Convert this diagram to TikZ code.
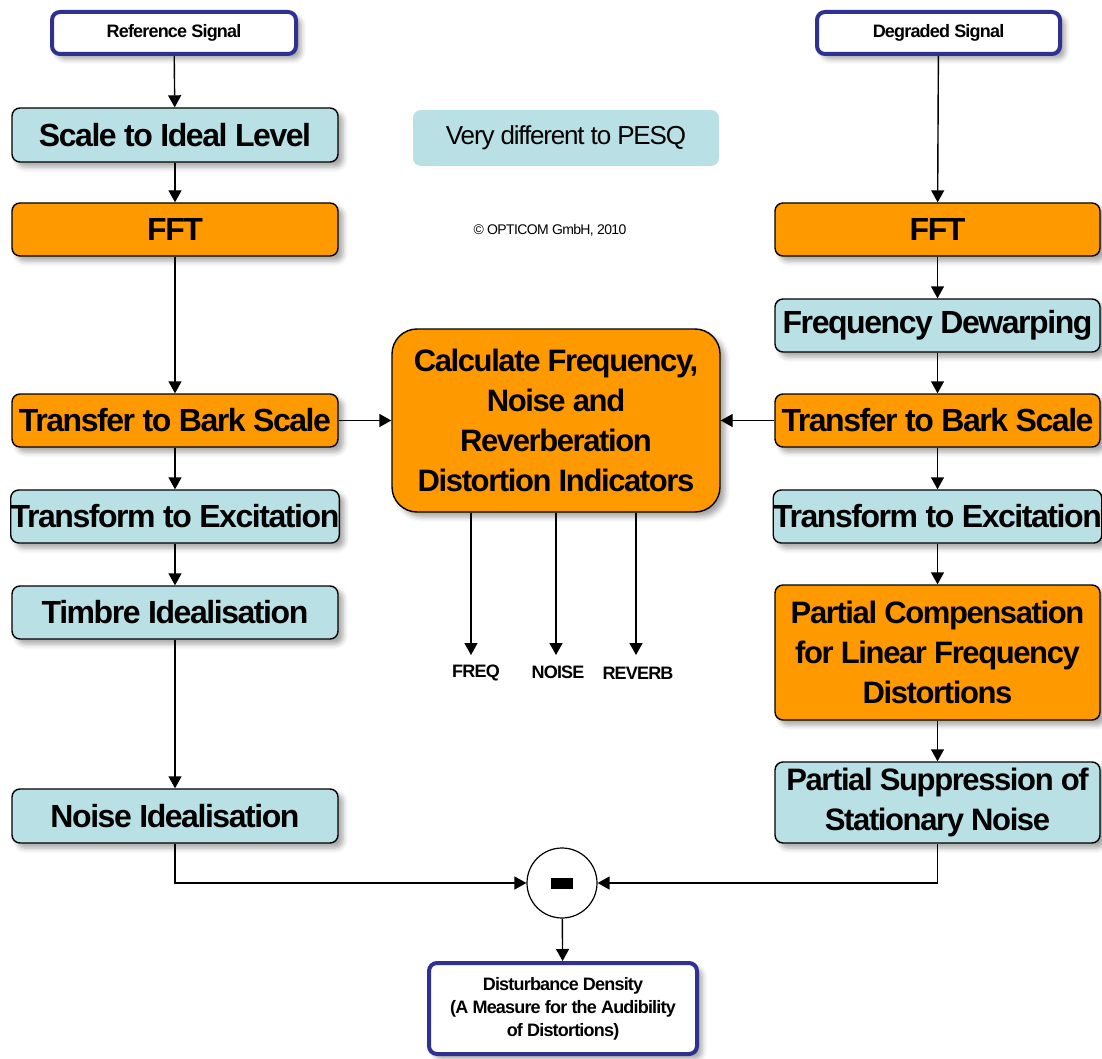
\documentclass[tikz,border=0pt]{standalone}
\usepackage{fontspec}
\setmainfont{Liberation Sans}[LetterSpace=-4.5]
\usetikzlibrary{arrows.meta,shadows.blur}
\definecolor{paleblue}{HTML}{B9E0E4}
\definecolor{amber}{HTML}{FF9900}
\definecolor{navy}{HTML}{2E3192}

\tikzset{
  box/.style={draw=black, line width=1.4pt, rounded corners=8pt, align=center,
    inner sep=0pt, text=black, font=\bfseries\fontsize{32}{40}\selectfont,
    blur shadow={shadow xshift=5pt, shadow yshift=-5pt, shadow blur radius=5pt, shadow opacity=35}},
  cool/.style={box, fill=paleblue},
  warm/.style={box, fill=amber},
  single/.style={minimum width=326pt, minimum height=53pt},
  multi/.style={font=\bfseries\fontsize{31}{40}\selectfont},
  signal/.style={box, draw=navy, line width=4pt, fill=white,
    font=\bfseries\fontsize{18}{23}\selectfont},
  outlabel/.style={font=\bfseries\fontsize{18}{22}\selectfont, inner sep=0pt},
  flow/.style={-{Triangle[length=12pt,width=13pt]}, line width=1.4pt},
}

\begin{document}
\begin{tikzpicture}[x=1pt, y=-1pt]
\useasboundingbox (0,0) rectangle (1102,1059);

% inputs
\node[signal, minimum width=244pt, minimum height=42pt] (refsig) at (174,33) {Reference Signal};
\node[signal, minimum width=243pt, minimum height=42pt] (degsig) at (938.5,33) {Degraded Signal};

% reference path
\node[cool, single, minimum height=54pt] (scale) at (175,135) {Scale to Ideal Level};
\node[warm, single] (fftL) at (175,229.5) {FFT};
\node[warm, single] (barkL) at (175,420.5) {Transfer to Bark Scale};
\node[cool, single] (excL) at (175,516.5) {Transform to Excitation};
\node[cool, single] (timbre) at (175,612.5) {Timbre Idealisation};
\node[cool, single, minimum height=54pt] (noiseid) at (175,816) {Noise Idealisation};

% degraded path
\node[warm, single, minimum width=325pt] (fftR) at (937.5,229.5) {FFT};
\node[cool, single, minimum width=325pt] (dewarp) at (937.5,325.5) {Frequency Dewarping};
\node[warm, single, minimum width=325pt] (barkR) at (937.5,420.5) {Transfer to Bark Scale};
\node[cool, single, minimum width=325pt] (excR) at (937.5,516.5) {Transform to Excitation};
\node[warm, multi, minimum width=325pt, minimum height=135pt] (comp) at (937.5,652.5)
  {Partial Compensation\\for Linear Frequency\\Distortions};
\node[cool, multi, minimum width=325pt, minimum height=81pt] (supp) at (937.5,802.5)
  {Partial Suppression of\\Stationary Noise};

% indicator block
\node[warm, multi, rounded corners=25pt, minimum width=328pt, minimum height=183pt] (calc) at (556,420.5)
  {Calculate Frequency,\\Noise and\\Reverberation\\Distortion Indicators};

% notes
\node[fill=paleblue, rounded corners=8pt, minimum width=306pt, minimum height=56pt, inner sep=0pt,
  font=\fontsize{26}{30}\selectfont] (pesq) at (566,138) {Very different to PESQ};
\node[font=\fontsize{14}{16}\selectfont, inner sep=0pt] (copy) at (550,230) {© OPTICOM GmbH, 2010};

% difference and result
\node[circle, draw=black, line width=1.2pt, fill=white, minimum size=70pt, inner sep=0pt] (minus) at (562,883) {};
\fill[black] ([xshift=-11pt,yshift=5.5pt]minus.center) rectangle ([xshift=11pt,yshift=-5.5pt]minus.center);
\node[signal, minimum width=268pt, minimum height=91pt] (dist) at (563,1008.5)
  {Disturbance Density\\(A Measure for the Audibility\\of Distortions)};

% indicator outputs
\node[outlabel] (lfreq) at (476,673) {FREQ};
\node[outlabel] (lnoise) at (558,672) {NOISE};
\node[outlabel] (lrev) at (638,673) {REVERB};
\coordinate (tfreq) at (471,655);
\coordinate (tnoise) at (556,655);
\coordinate (trev) at (636,655);

% connectors
\draw[flow] (refsig) -- (scale);
\draw[flow] (scale) -- (fftL);
\draw[flow] (fftL) -- (barkL);
\draw[flow] (barkL) -- (excL);
\draw[flow] (excL) -- (timbre);
\draw[flow] (timbre) -- (noiseid);

\draw[flow] (degsig) -- (fftR);
\draw[flow] (fftR) -- (dewarp);
\draw[flow] (dewarp) -- (barkR);
\draw[flow] (barkR) -- (excR);
\draw[flow] (excR) -- (comp);
\draw[flow] (comp) -- (supp);

\draw[flow] (barkL) -- (calc);
\draw[flow] (barkR) -- (calc);

\draw[flow] (calc.south -| tfreq) -- (tfreq);
\draw[flow] (calc.south -| tnoise) -- (tnoise);
\draw[flow] (calc.south -| trev) -- (trev);

\draw[flow] (noiseid.south) |- (minus.west);
\draw[flow] (supp.south) |- (minus.east);
\draw[flow] (minus) -- (dist);
\end{tikzpicture}
\end{document}
